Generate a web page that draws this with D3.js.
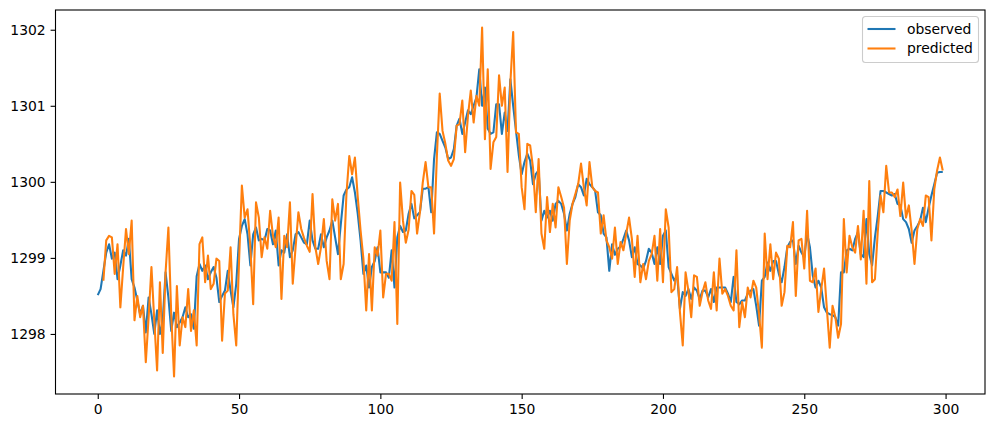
<!DOCTYPE html>
<html>
<head>
<meta charset="utf-8">
<script src="https://cdn.jsdelivr.net/npm/d3@7"></script>
<style>
  html, body { margin: 0; padding: 0; background: #fff; }
  svg { display: block; font-family: "DejaVu Sans", sans-serif; }
</style>
</head>
<body>
<script>
// series, index 0..299
const observed = [
  1298.51, 1298.59, 1298.83, 1299.07, 1299.18, 1298.99, 1299.07, 1298.72, 1298.90, 1299.10,
  1299.03, 1299.25, 1298.72, 1298.61, 1298.44, 1298.26, 1298.37, 1298.02, 1298.48, 1298.26,
  1298.00, 1298.31, 1298.00, 1298.18, 1298.81, 1298.48, 1298.04, 1298.28, 1298.09, 1298.15,
  1298.22, 1298.35, 1298.22, 1298.26, 1298.07, 1298.76, 1298.92, 1298.83, 1298.90, 1298.72,
  1298.81, 1298.88, 1298.74, 1298.42, 1298.50, 1298.57, 1298.83, 1298.57, 1298.35, 1298.66,
  1299.25, 1299.42, 1299.51, 1299.31, 1298.90, 1299.31, 1299.40, 1299.23, 1299.25, 1299.23,
  1299.38, 1299.36, 1299.18, 1299.36, 1298.90, 1299.10, 1299.07, 1299.31, 1299.01, 1299.10,
  1299.31, 1299.34, 1299.27, 1299.20, 1299.18, 1299.49, 1299.23, 1299.12, 1299.12, 1299.31,
  1299.14, 1299.27, 1299.36, 1299.49, 1299.27, 1299.05, 1299.44, 1299.82, 1299.90, 1299.93,
  1300.06, 1299.86, 1299.58, 1299.23, 1298.79, 1298.90, 1298.61, 1298.88, 1298.96, 1299.14,
  1298.81, 1298.81, 1298.81, 1298.74, 1299.10, 1298.61, 1299.27, 1299.42, 1299.34, 1299.36,
  1299.58, 1299.71, 1299.52, 1299.56, 1299.60, 1299.91, 1299.91, 1299.93, 1299.60, 1300.30,
  1300.65, 1300.63, 1300.54, 1300.45, 1300.30, 1300.32, 1300.43, 1300.74, 1300.83, 1300.63,
  1300.78, 1300.94, 1300.89, 1301.00, 1301.11, 1301.48, 1301.00, 1301.24, 1300.70, 1300.63,
  1300.65, 1301.02, 1301.02, 1300.63, 1300.91, 1300.67, 1301.35, 1301.00, 1300.67, 1300.35,
  1300.10, 1300.26, 1300.37, 1300.28, 1299.97, 1300.10, 1300.15, 1299.49, 1299.62, 1299.53,
  1299.62, 1299.49, 1299.71, 1299.75, 1299.71, 1299.58, 1299.36, 1299.58, 1299.71, 1299.80,
  1299.97, 1299.93, 1299.82, 1300.04, 1299.97, 1299.93, 1299.88, 1299.60, 1299.56, 1299.32,
  1299.27, 1298.83, 1299.18, 1299.04, 1299.12, 1299.15, 1299.25, 1299.36, 1299.23, 1299.01,
  1299.14, 1298.92, 1298.90, 1298.86, 1298.96, 1299.12, 1299.07, 1298.92, 1299.14, 1298.92,
  1299.29, 1299.36, 1298.88, 1298.79, 1298.70, 1298.77, 1298.33, 1298.55, 1298.50, 1298.59,
  1298.46, 1298.61, 1298.57, 1298.46, 1298.57, 1298.57, 1298.48, 1298.59, 1298.42, 1298.61,
  1298.61, 1298.61, 1298.61, 1298.53, 1298.42, 1298.75, 1298.42, 1298.39, 1298.44, 1298.44,
  1298.53, 1298.57, 1298.59, 1298.37, 1298.11, 1298.70, 1298.75, 1298.94, 1298.83, 1298.96,
  1298.96, 1298.79, 1298.68, 1298.88, 1299.14, 1299.21, 1299.23, 1298.92, 1299.16, 1299.07,
  1299.01, 1299.32, 1299.14, 1298.77, 1298.61, 1298.70, 1298.61, 1298.35, 1298.28, 1298.26,
  1298.25, 1298.22, 1298.11, 1298.81, 1298.81, 1299.10, 1299.12, 1299.10, 1299.25, 1299.34,
  1299.05, 1299.01, 1299.51, 1299.05, 1298.90, 1299.27, 1299.55, 1299.88, 1299.88, 1299.86,
  1299.84, 1299.82, 1299.84, 1299.71, 1299.69, 1299.51, 1299.47, 1299.38, 1299.20, 1299.36,
  1299.42, 1299.49, 1299.66, 1299.47, 1299.66, 1299.82, 1299.97, 1300.12, 1300.13, 1300.13
]

// first two predictions are missing
const predicted = [
  null, null, 1298.70, 1299.23, 1299.29, 1299.27, 1298.79, 1299.18, 1298.35, 1298.88,
  1299.38, 1299.05, 1299.49, 1298.18, 1298.50, 1298.22, 1298.37, 1297.63, 1298.22, 1298.88,
  1298.18, 1297.52, 1298.68, 1297.75, 1298.81, 1299.40, 1298.26, 1297.44, 1298.63, 1297.85,
  1298.22, 1298.09, 1298.59, 1298.04, 1298.31, 1297.85, 1299.18, 1299.27, 1298.68, 1299.03,
  1298.59, 1298.66, 1298.99, 1298.96, 1297.91, 1298.53, 1298.57, 1299.14, 1298.26, 1297.85,
  1298.96, 1299.95, 1299.53, 1299.64, 1299.14, 1298.39, 1299.73, 1299.53, 1299.01, 1299.27,
  1299.12, 1299.62, 1299.29, 1299.14, 1299.53, 1298.46, 1299.29, 1299.14, 1299.73, 1298.66,
  1299.14, 1299.60, 1299.38, 1299.26, 1299.16, 1299.08, 1299.84, 1299.14, 1298.92, 1299.14,
  1299.51, 1298.96, 1298.72, 1299.77, 1299.49, 1299.71, 1298.72, 1298.92, 1299.84, 1300.34,
  1300.10, 1300.32, 1299.80, 1299.36, 1298.99, 1298.31, 1299.05, 1298.31, 1299.14, 1299.03,
  1299.36, 1298.48, 1298.79, 1298.79, 1298.70, 1299.47, 1298.13, 1299.99, 1299.49, 1299.20,
  1299.37, 1299.88, 1299.83, 1299.32, 1299.60, 1299.99, 1300.26, 1299.93, 1299.93, 1299.32,
  1300.34, 1301.16, 1300.67, 1300.50, 1300.28, 1300.21, 1300.30, 1300.74, 1300.76, 1301.07,
  1300.39, 1300.87, 1301.20, 1300.78, 1301.13, 1301.00, 1302.03, 1300.56, 1301.48, 1300.17,
  1300.52, 1300.59, 1301.40, 1301.00, 1301.24, 1300.13, 1301.30, 1301.97, 1300.65, 1300.63,
  1299.93, 1299.64, 1300.50, 1300.48, 1300.19, 1299.60, 1300.30, 1299.32, 1299.12, 1299.80,
  1299.34, 1299.71, 1299.40, 1299.93, 1299.80, 1299.66, 1298.92, 1299.49, 1299.71, 1299.84,
  1299.97, 1300.24, 1299.93, 1299.69, 1300.26, 1299.93, 1299.88, 1299.86, 1299.32, 1299.56,
  1299.23, 1299.14, 1298.99, 1299.40, 1298.92, 1299.21, 1299.10, 1299.32, 1299.53, 1299.25,
  1298.75, 1299.29, 1298.68, 1298.92, 1298.72, 1298.96, 1299.05, 1299.29, 1298.70, 1299.38,
  1298.68, 1299.64, 1299.40, 1298.55, 1298.59, 1298.88, 1298.29, 1297.85, 1298.81, 1298.57,
  1298.22, 1298.77, 1298.75, 1298.37, 1298.55, 1298.68, 1298.44, 1298.33, 1298.81, 1298.31,
  1298.99, 1298.53, 1298.59, 1298.50, 1298.37, 1298.31, 1299.10, 1298.09, 1298.42, 1298.22,
  1298.61, 1298.48, 1298.70, 1298.61, 1298.26, 1297.82, 1299.32, 1298.72, 1299.18, 1298.72,
  1299.07, 1298.99, 1298.37, 1298.55, 1299.16, 1299.14, 1299.47, 1298.50, 1299.23, 1299.25,
  1298.86, 1299.62, 1298.70, 1298.68, 1298.86, 1298.29, 1298.59, 1298.86, 1298.33, 1297.82,
  1298.37, 1298.22, 1297.95, 1298.13, 1299.51, 1298.81, 1299.29, 1299.14, 1299.07, 1299.42,
  1298.98, 1299.62, 1298.66, 1300.01, 1298.68, 1298.72, 1299.34, 1299.82, 1299.60, 1300.21,
  1299.86, 1299.86, 1299.80, 1299.90, 1299.55, 1299.99, 1299.53, 1299.69, 1299.36, 1298.92,
  1299.38, 1299.51, 1299.42, 1299.82, 1299.80, 1299.23, 1299.90, 1300.15, 1300.32, 1300.15
]

const xTicks = [0, 50, 100, 150, 200, 250, 300]
const yTicks = [1298, 1299, 1300, 1301, 1302]
const seriesNames = ['observed', 'predicted']
const seriesColors = ['#1f77b4', '#ff7f0e']

const width = 995
const height = 428
const margin = { top: 10, right: 10, bottom: 34, left: 55.5 }

const svg = d3.select('body').append('svg')
    .attr('width', width)
    .attr('height', height)

// matplotlib style 5% padding on both axes
const n = observed.length
const xPad = (n - 1) * 0.05
const x = d3.scaleLinear()
    .domain([-xPad, n - 1 + xPad])
    .range([margin.left, width - margin.right])

const allVals = observed.concat(predicted.filter(v => v !== null))
const lo = d3.min(allVals)
const hi = d3.max(allVals)
const yPad = (hi - lo) * 0.05
const y = d3.scaleLinear()
    .domain([lo - yPad, hi + yPad])
    .range([height - margin.bottom, margin.top])

const line = d3.line()
    .defined(d => d !== null)
    .x((d, i) => x(i))
    .y(d => y(d))

const plot = svg.append('g')
plot.append('path')
    .datum(observed)
    .attr('fill', 'none')
    .attr('stroke', seriesColors[0])
    .attr('stroke-width', 2.08)
    .attr('stroke-linejoin', 'round')
    .attr('d', line)
plot.append('path')
    .datum(predicted)
    .attr('fill', 'none')
    .attr('stroke', seriesColors[1])
    .attr('stroke-width', 2.08)
    .attr('stroke-linejoin', 'round')
    .attr('d', line)

// axes
const xAxis = svg.append('g')
    .attr('transform', `translate(0,${height - margin.bottom})`)
    .call(d3.axisBottom(x).tickValues(xTicks).tickSize(4.9).tickPadding(4.9))
const yAxis = svg.append('g')
    .attr('transform', `translate(${margin.left},0)`)
    .call(d3.axisLeft(y).tickValues(yTicks).tickFormat(d3.format('d')).tickSize(4.9).tickPadding(4.9))

for (const ax of [xAxis, yAxis]) {
    ax.select('.domain').remove()
    ax.selectAll('.tick line').attr('stroke', '#000').attr('stroke-width', 1.1)
    ax.selectAll('.tick text')
        .attr('fill', '#000')
        .style('font-size', '13.9px')
        .style('font-family', '"DejaVu Sans", sans-serif')
}

// frame
svg.append('rect')
    .attr('x', margin.left)
    .attr('y', margin.top)
    .attr('width', width - margin.right - margin.left)
    .attr('height', height - margin.bottom - margin.top)
    .attr('fill', 'none')
    .attr('stroke', '#000')
    .attr('stroke-width', 1.1)

// legend
const legend = svg.append('g').attr('transform', 'translate(862.5,16.5)')
legend.append('rect')
    .attr('width', 116)
    .attr('height', 46)
    .attr('rx', 3)
    .attr('fill', 'rgba(255,255,255,0.8)')
    .attr('stroke', '#cccccc')
    .attr('stroke-width', 1.1)

seriesNames.forEach((name, i) => {
    const row = legend.append('g').attr('transform', `translate(0,${12.5 + i * 19.5})`)
    row.append('line')
        .attr('x1', 5).attr('x2', 33)
        .attr('stroke', seriesColors[i])
        .attr('stroke-width', 2.08)
    row.append('text')
        .attr('x', 44.5)
        .attr('dy', '0.35em')
        .style('font-size', '13.9px')
        .text(name)
})
</script>
</body>
</html>
